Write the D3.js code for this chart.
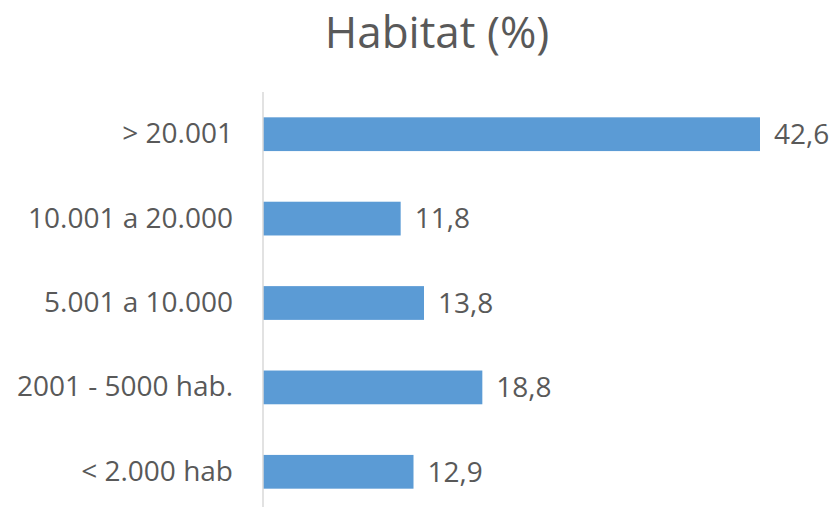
<!DOCTYPE html>
<html>
<head>
<meta charset="utf-8">
<script src="https://cdn.jsdelivr.net/npm/d3@7"></script>
<style>
  body { margin: 0; background: #fff; }
  text { font-family: "Open Sans", sans-serif; fill: #595959; }
</style>
</head>
<body>
<div id="chart"></div>
<script>
// data
var categories = ["> 20.001", "10.001 a 20.000", "5.001 a 10.000", "2001 - 5000 hab.", "< 2.000 hab"];
var values = [42.6, 11.8, 13.8, 18.8, 12.9];
var title = "Habitat (%)";

var width = 838;
var height = 507;
var left = 263; // value axis origin

var svg = d3.select("#chart")
    .append("svg")
    .attr("width", width)
    .attr("height", height);

var x = d3.scaleLinear().domain([0, 42.6]).range([left, 760]);

var y = d3.scaleBand()
    .domain(categories)
    .range([92, 514])
    .paddingInner(0.6)
    .paddingOuter(0.3);

svg.append("text")
    .attr("x", 437)
    .attr("y", 48)
    .attr("text-anchor", "middle")
    .style("font-size", "44px")
    .text(title);

// bars
svg.selectAll(".bar")
    .data(values)
    .enter().append("rect")
    .attr("class", "bar")
    .attr("x", x(0))
    .attr("y", function(d, i) { return y(categories[i]); })
    .attr("width", function(d) { return x(d) - x(0); })
    .attr("height", y.bandwidth())
    .attr("fill", "#5B9BD5");

// category axis
var yAxis = svg.append("g")
    .attr("transform", "translate(" + left + ",0)")
    .call(d3.axisLeft(y).tickSize(0).tickPadding(30));
yAxis.select(".domain").remove();
yAxis.selectAll("text")
    .style("font-size", "28px")
    .attr("fill", "#595959")
    .style("font-family", "'Open Sans', sans-serif");

svg.append("line")
    .attr("x1", left).attr("x2", left)
    .attr("y1", 92).attr("y2", height)
    .attr("stroke", "#D9D9D9")
    .attr("stroke-width", 1.5);

// value labels
svg.selectAll(".val")
    .data(values)
    .enter().append("text")
    .attr("class", "val")
    .attr("x", function(d) { return x(d) + 14; })
    .attr("y", function(d, i) { return y(categories[i]) + y.bandwidth() / 2; })
    .attr("dy", "0.35em")
    .style("font-size", "28px")
    .text(function(d) { return d.toFixed(1).replace(".", ","); });
</script>
</body>
</html>
